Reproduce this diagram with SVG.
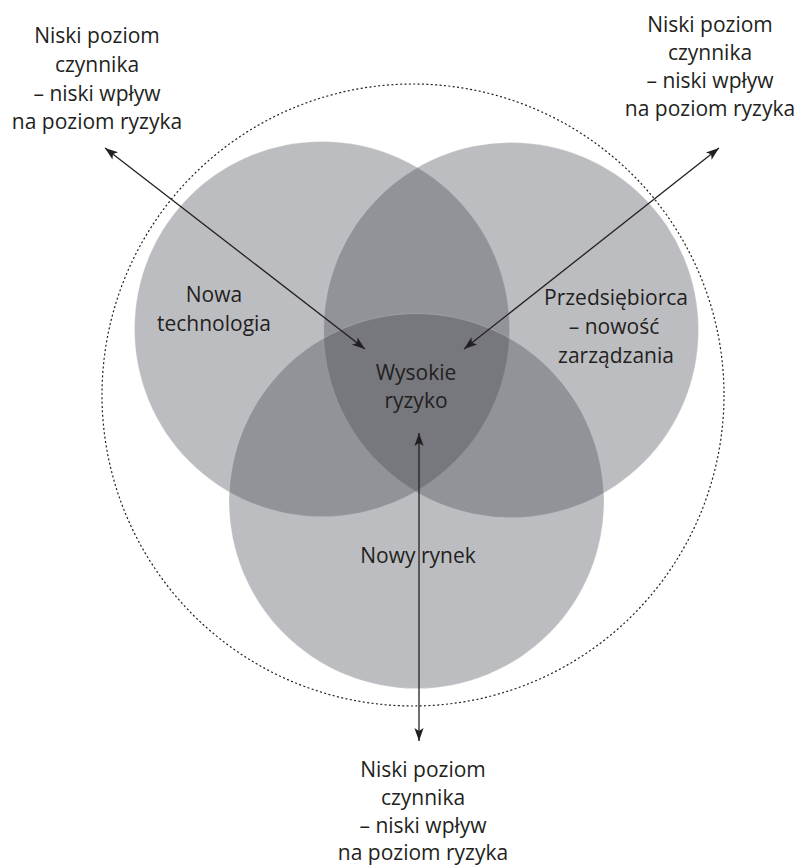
<svg xmlns="http://www.w3.org/2000/svg" width="802" height="865" viewBox="0 0 802 865">
  <style>
    .set { fill: #474a52; fill-opacity: 0.364; stroke: #ffffff; stroke-opacity: 0.35; stroke-width: 0.6; }
    .label { font-family: "Open Sans", "Noto Sans", "Liberation Sans", sans-serif; font-size: 21px; fill: #231f20; text-anchor: middle; }
    .arrow { stroke: #231f20; stroke-width: 1.3; fill: none; marker-start: url(#head); marker-end: url(#head); }
    .boundary { fill: none; stroke: #231f20; stroke-width: 1.2; stroke-dasharray: 2 2.4; }
  </style>
  <defs>
    <marker id="head" viewBox="-14 -6 16 12" refX="0" refY="0" markerWidth="16" markerHeight="12" markerUnits="userSpaceOnUse" orient="auto-start-reverse">
      <path d="M0,0 L-13,-4.6 L-10,0 L-13,4.6 Z" fill="#231f20"/>
    </marker>
  </defs>

  <!-- dotted outer boundary -->
  <circle class="boundary" cx="413" cy="395" r="311"/>

  <!-- three overlapping sets -->
  <g id="nowa-technologia">
    <circle class="set" cx="322" cy="329" r="187.5"/>
    <text class="label" x="214" y="302">Nowa</text>
    <text class="label" x="214" y="331">technologia</text>
  </g>
  <g id="przedsiebiorca">
    <circle class="set" cx="511" cy="330" r="187.5"/>
    <text class="label" x="616" y="305">Przedsiębiorca</text>
    <text class="label" x="614" y="334">– nowość</text>
    <text class="label" x="616" y="363">zarządzania</text>
  </g>
  <g id="nowy-rynek">
    <circle class="set" cx="416.5" cy="501" r="187.5"/>
    <text class="label" x="418" y="563">Nowy rynek</text>
  </g>
  <g id="wysokie-ryzyko">
    <text class="label" x="416" y="380">Wysokie</text>
    <text class="label" x="416" y="408">ryzyko</text>
  </g>

  <!-- outer low-risk notes -->
  <g id="niski-lewy">
    <text class="label" x="97" y="43">Niski poziom</text>
    <text class="label" x="97" y="72">czynnika</text>
    <text class="label" x="97" y="101">– niski wpływ</text>
    <text class="label" x="97" y="129">na poziom ryzyka</text>
  </g>
  <g id="niski-prawy">
    <text class="label" x="710" y="32">Niski poziom</text>
    <text class="label" x="710" y="60">czynnika</text>
    <text class="label" x="710" y="88">– niski wpływ</text>
    <text class="label" x="710" y="116">na poziom ryzyka</text>
  </g>
  <g id="niski-dolny">
    <text class="label" x="423" y="777">Niski poziom</text>
    <text class="label" x="423" y="805">czynnika</text>
    <text class="label" x="423" y="833">– niski wpływ</text>
    <text class="label" x="423" y="860">na poziom ryzyka</text>
  </g>

  <!-- connectors -->
  <g id="connectors">
    <line class="arrow" x1="105" y1="148" x2="365" y2="349"/>
    <line class="arrow" x1="719" y1="148" x2="464" y2="349"/>
    <line class="arrow" x1="419" y1="741" x2="419" y2="433"/>
  </g>
</svg>
